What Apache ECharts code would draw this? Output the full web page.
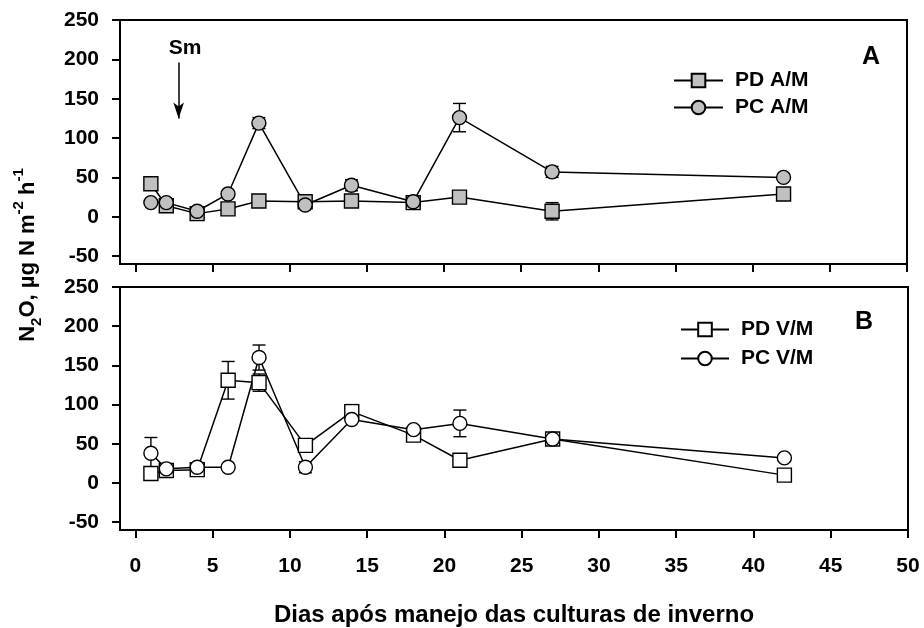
<!DOCTYPE html>
<html>
<head>
<meta charset="utf-8">
<script src="https://cdn.jsdelivr.net/npm/echarts@6/dist/echarts.min.js"></script>
<style>
  html, body { margin: 0; padding: 0; background: #fff; }
  #chart { width: 924px; height: 628px; }
</style>
</head>
<body>
<div id="chart"></div>
<script>
// dias de coleta
const days = [1, 2, 4, 6, 8, 11, 14, 18, 21, 27, 42];

// painel A (aveia / milho)
const pdAM = [42, 14, 4, 10, 20, 19, 20, 18, 25, 7, 29];
const pdAMErr = [4, 4, 3, 3, 3, 6, 4, 4, 3, 11, 5];
const pcAM = [18, 18, 7, 29, 119, 15, 40, 19, 126, 57, 50];
const pcAMErr = [3, 4, 3, 3, 7, 3, 7, 4, 18, 7, 3];

// painel B (vica / milho)
const pdVM = [12, 16, 17, 131, 128, 48, 91, 61, 29, 56, 10];
const pdVMErr = [3, 3, 3, 24, 11, 5, 9, 4, 4, 5, 5];
const pcVM = [38, 18, 20, 20, 160, 20, 81, 68, 76, 56, 32];
const pcVMErr = [20, 4, 3, 2, 16, 7, 3, 3, 17, 5, 3];

// eixos
const xTicks = [0, 5, 10, 15, 20, 25, 30, 35, 40, 45, 50];
const yTicks = [-50, 0, 50, 100, 150, 200, 250];

// seta "Sm"
const smDay = 2.8;
const smFrom = 196;
const smTo = 125;

const FONT = '"Liberation Sans", Arial, sans-serif';
const GRAY = '#c0c0c0';

const chart = echarts.init(document.getElementById('chart'));

function lineSeries(name, vals, symbol, fill, idx) {
    return {
        name: name,
        type: 'line',
        xAxisIndex: idx,
        yAxisIndex: idx,
        data: days.map((d, i) => [d, vals[i]]),
        symbol: symbol,
        symbolSize: 14,
        showAllSymbol: true,
        z: 3,
        lineStyle: { color: '#000', width: 1.5 },
        itemStyle: { color: fill, borderColor: '#000', borderWidth: 1.4 },
        emphasis: { disabled: true }
    };
}

function errorSeries(vals, errs, idx) {
    return {
        type: 'custom',
        xAxisIndex: idx,
        yAxisIndex: idx,
        z: 1,
        silent: true,
        data: days.map((d, i) => [d, vals[i], errs[i]]),
        encode: { x: 0, y: 1 },
        renderItem: function (params, api) {
            const x = api.value(0), y = api.value(1), e = api.value(2);
            const hi = api.coord([x, y + e]);
            const lo = api.coord([x, y - e]);
            const w = 6.5;
            const st = { stroke: '#000', lineWidth: 1.4 };
            return {
                type: 'group',
                children: [
                    { type: 'line', shape: { x1: hi[0], y1: hi[1], x2: lo[0], y2: lo[1] }, style: st },
                    { type: 'line', shape: { x1: hi[0] - w, y1: hi[1], x2: hi[0] + w, y2: hi[1] }, style: st },
                    { type: 'line', shape: { x1: lo[0] - w, y1: lo[1], x2: lo[0] + w, y2: lo[1] }, style: st }
                ]
            };
        }
    };
}

function xAxis(idx, withLabels) {
    return {
        type: 'value',
        gridIndex: idx,
        min: -1,
        max: 50,
        axisLine: { show: false, onZero: false },
        axisTick: { show: true, length: 8, lineStyle: { color: '#000', width: 2 }, customValues: xTicks },
        axisLabel: {
            show: withLabels,
            customValues: xTicks,
            margin: 26,
            fontSize: 21,
            fontWeight: 'bold',
            fontFamily: FONT,
            color: '#000'
        },
        splitLine: { show: false },
        name: withLabels ? 'Dias após manejo das culturas de inverno' : '',
        nameLocation: 'middle',
        nameGap: 73,
        nameTextStyle: { fontSize: 24, fontWeight: 'bold', fontFamily: FONT, color: '#000' }
    };
}

function yAxis(idx) {
    return {
        type: 'value',
        gridIndex: idx,
        min: -60,
        max: 250,
        axisLine: { show: false, onZero: false },
        axisTick: { show: true, length: 8, lineStyle: { color: '#000', width: 2 }, customValues: yTicks },
        axisLabel: {
            customValues: yTicks,
            margin: 21,
            fontSize: 21,
            fontWeight: 'bold',
            fontFamily: FONT,
            color: '#000'
        },
        splitLine: { show: false }
    };
}

const legendText = { fontSize: 21, fontWeight: 'bold', fontFamily: FONT, color: '#000', padding: [0, 0, 0, 7] };

const option = {
    backgroundColor: '#fff',
    animation: false,
    grid: [
        { left: 120, top: 20, width: 787, height: 244, show: true, borderColor: '#000', borderWidth: 2, backgroundColor: 'transparent' },
        { left: 120, top: 287, width: 788, height: 244, show: true, borderColor: '#000', borderWidth: 2, backgroundColor: 'transparent' }
    ],
    xAxis: [xAxis(0, false), xAxis(1, true)],
    yAxis: [yAxis(0), yAxis(1)],
    legend: [
        {
            data: ['PD A/M', 'PC A/M'],
            orient: 'vertical',
            left: 673, top: 70, padding: 0,
            itemWidth: 49, itemHeight: 17, itemGap: 6,
            textStyle: legendText,
            selectedMode: false
        },
        {
            data: ['PD V/M', 'PC V/M'],
            orient: 'vertical',
            left: 680, top: 319, padding: 0,
            itemWidth: 48, itemHeight: 17, itemGap: 8,
            textStyle: legendText,
            selectedMode: false
        }
    ],
    graphic: [
        {
            type: 'text', x: 880, y: 57,
            style: { text: 'A', font: 'bold 25px ' + FONT, fill: '#000', align: 'right', verticalAlign: 'middle' }
        },
        {
            type: 'text', x: 873, y: 322,
            style: { text: 'B', font: 'bold 25px ' + FONT, fill: '#000', align: 'right', verticalAlign: 'middle' }
        },
        {
            type: 'text',
            x: 28, y: 255,
            rotation: Math.PI / 2,
            style: {
                text: '{m|N}{s|2}{m|O, µg N m}{p|-2}{m| h}{p|-1}',
                align: 'center',
                verticalAlign: 'middle',
                rich: {
                    m: { fontSize: 22, fontWeight: 'bold', fontFamily: FONT, fill: '#000', lineHeight: 25, verticalAlign: 'middle' },
                    s: { fontSize: 15, fontWeight: 'bold', fontFamily: FONT, fill: '#000', lineHeight: 15, verticalAlign: 'bottom', padding: [0, 0, -4, 0] },
                    p: { fontSize: 15, fontWeight: 'bold', fontFamily: FONT, fill: '#000', lineHeight: 15, verticalAlign: 'top', padding: [-4, 0, 0, 0] }
                }
            }
        }
    ],
    series: [
        errorSeries(pdAM, pdAMErr, 0),
        errorSeries(pcAM, pcAMErr, 0),
        errorSeries(pdVM, pdVMErr, 1),
        errorSeries(pcVM, pcVMErr, 1),
        lineSeries('PD A/M', pdAM, 'rect', GRAY, 0),
        Object.assign(lineSeries('PC A/M', pcAM, 'circle', GRAY, 0), {
            markLine: {
                silent: true,
                symbol: ['none', 'arrow'],
                symbolSize: [8, 16],
                lineStyle: { color: '#000', width: 1.5, type: 'solid' },
                label: {
                    show: true,
                    position: 'start',
                    formatter: 'Sm',
                    distance: 4,
                    padding: [0, 0, 0, 13],
                    fontSize: 21,
                    fontWeight: 'bold',
                    fontFamily: FONT,
                    color: '#000'
                },
                data: [[{ coord: [smDay, smFrom] }, { coord: [smDay, smTo] }]]
            }
        }),
        lineSeries('PD V/M', pdVM, 'rect', '#fff', 1),
        lineSeries('PC V/M', pcVM, 'circle', '#fff', 1)
    ]
};

chart.setOption(option);
</script>
</body>
</html>
